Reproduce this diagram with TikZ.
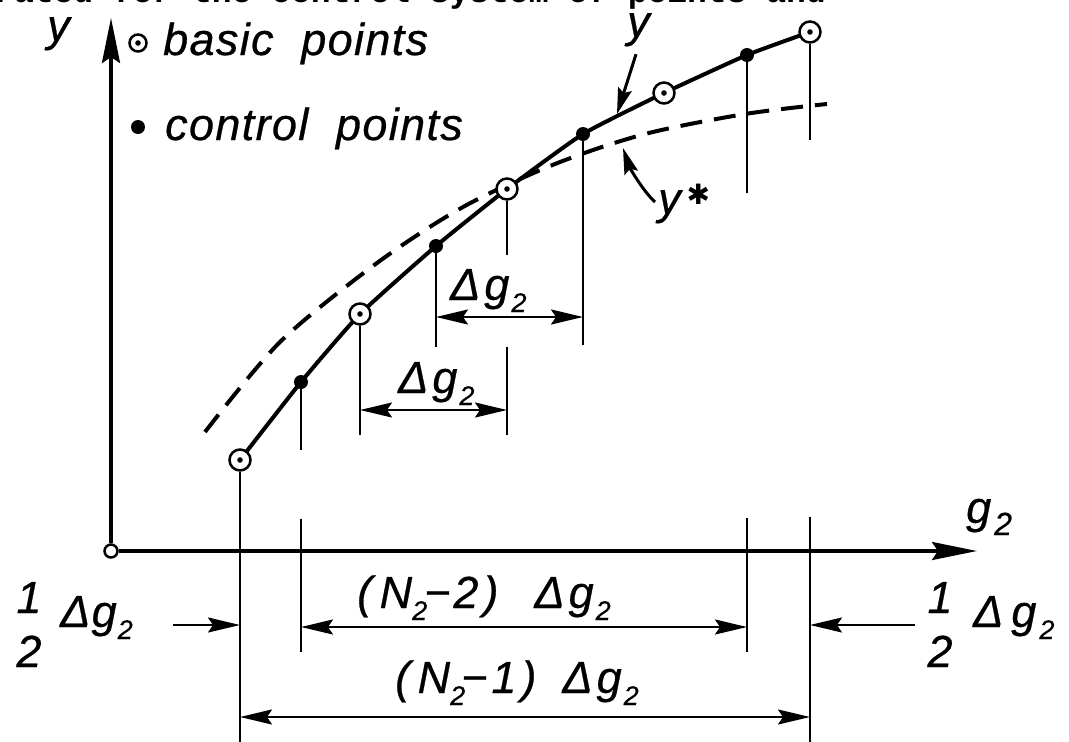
\documentclass[tikz,border=0pt]{standalone}
\usepackage{fontspec}
\setmainfont{Liberation Sans}
\newfontfamily\lab{Liberation Sans}[LetterSpace=3, FakeBold=0.6]
\newfontfamily\dejav{DejaVu Sans}
\newfontfamily\typew{Liberation Mono}
\usetikzlibrary{arrows.meta}
\newcommand{\sbs}[1]{\raisebox{-12pt}{\fontsize{27}{27}\selectfont #1}}
\newcommand{\dgs}{Δ\hspace{4pt}g\hspace{2pt}\sbs{2}}
\tikzset{
  lbl/.style={font=\lab\itshape\fontsize{45}{54}\selectfont, inner sep=0pt, anchor=base west},
  axisline/.style={line width=3.5pt, -{Stealth[length=45pt,width=18pt,inset=6pt]}},
  curveline/.style={line width=4pt, line join=round, line cap=round},
  starline/.style={line width=4pt, dash pattern=on 22pt off 12pt},
  extline/.style={line width=2.5pt},
  dimboth/.style={line width=2.3pt, {Stealth[length=32pt,width=15pt,inset=5pt]}-{Stealth[length=32pt,width=15pt,inset=5pt]}},
  dimone/.style={line width=2.3pt, -{Stealth[length=32pt,width=15pt,inset=5pt]}},
  labarrow/.style={line width=3pt, -{Stealth[length=26pt,width=14pt,inset=4pt]}},
  bpt/.style={circle, draw, line width=2.5pt, fill=white, minimum size=21pt, inner sep=0pt,
    path picture={\fill[black] (path picture bounding box.center) circle (2.8pt);}},
  cpt/.style={circle, fill, minimum size=14pt, inner sep=0pt},
}
\begin{document}
\begin{tikzpicture}[x=1pt,y=-1pt]
\useasboundingbox (0,0) rectangle (1069,742);
% cut caption line at the top
\node[font=\typew\bfseries\fontsize{33}{33}\selectfont, inner sep=0pt, anchor=base west] (cap) at (-6,2) {rated for the control system of points and};
% points
\coordinate (b1) at (240,460);
\coordinate (c1) at (301,382);
\coordinate (b2) at (360,314);
\coordinate (c2) at (436,246);
\coordinate (b3) at (507,189);
\coordinate (c3) at (583,134);
\coordinate (b4) at (664,93);
\coordinate (c4) at (747,55);
\coordinate (b5) at (810,32);
% axes
\node[circle, draw, fill=white, line width=2.5pt, minimum size=13pt, inner sep=0pt] (O) at (111,551) {};
\draw[axisline] (O) -- (O |- 0,18);
\draw[axisline] (O) -- (977,551);
% curves
\draw[starline] plot[smooth] coordinates {(205,432) (280,342) (377,263) (463,207) (555,164) (645,134) (745,114) (827,104)};
\draw[curveline] plot[smooth, tension=0.3] coordinates {(b1) (c1) (b2) (c2) (b3) (c3) (b4) (c4) (b5)};
% point marks
\node[bpt] (B1) at (b1) {};
\node[cpt] (C1) at (c1) {};
\node[bpt] (B2) at (b2) {};
\node[cpt] (C2) at (c2) {};
\node[bpt] (B3) at (b3) {};
\node[cpt] (C3) at (c3) {};
\node[bpt] (B4) at (b4) {};
\node[cpt] (C4) at (c4) {};
\node[bpt] (B5) at (b5) {};
% extension lines
\draw[extline] (B1) -- (b1 |- 0,742);
\draw[extline] (C1) -- (c1 |- 0,450);
\draw[extline] (c1 |- 0,519) -- (c1 |- 0,652);
\draw[extline] (B2) -- (b2 |- 0,435);
\draw[extline] (C2) -- (c2 |- 0,347);
\draw[extline] (B3) -- (b3 |- 0,255);
\draw[extline] (b3 |- 0,347) -- (b3 |- 0,435);
\draw[extline] (C3) -- (c3 |- 0,345);
\draw[extline] (C4) -- (c4 |- 0,193);
\draw[extline] (c4 |- 0,518) -- (c4 |- 0,652);
\draw[extline] (B5) -- (b5 |- 0,140);
\draw[extline] (b5 |- 0,517) -- (b5 |- 0,742);
% dimensions
\draw[dimboth] (c2 |- 0,317) -- (c3 |- 0,317);
\draw[dimboth] (b2 |- 0,410) -- (b3 |- 0,410);
\draw[dimboth] (c1 |- 0,627) -- (c4 |- 0,627);
\draw[dimboth] (b1 |- 0,717) -- (b5 |- 0,717);
\coordinate (hl) at (173,625);
\coordinate (hr) at (915,625);
\draw[dimone] (hl) -- (b1 |- hl);
\draw[dimone] (hr) -- (b5 |- hr);
% labels
\node[lbl] (ylab) at (47,41) {y};
\node[lbl] (g2lab) at (966,523) {g\hspace{3pt}\raisebox{-12pt}{\fontsize{32}{32}\selectfont 2}};
\node[bpt, minimum size=17pt] (legB) at (138,43) {};
\node[lbl] (tb) at (163,55) {basic\ \ points};
\node[cpt] (legC) at (138,127) {};
\node[lbl] (tc) at (165,140) {control\ \ points};
\node[lbl] (dgU) at (450,300) {\dgs};
\node[lbl] (dgM) at (398,393) {\dgs};
\node[lbl] (n2) at (357,608) {(\,N\sbs{2}\hspace{-3pt}−\hspace{3pt}2\hspace{5pt})\hspace{36pt}\dgs};
\node[lbl] (n1) at (395,693) {(\,N\sbs{2}\hspace{-4pt}−\hspace{4pt}1\hspace{5pt})\hspace{26pt}\dgs};
\node[lbl, anchor=base, align=center] (frL) at (29,667) {1\\2};
\node[lbl] (dgL) at (60,627) {Δg\hspace{1pt}\sbs{2}};
\node[lbl, anchor=base, align=center] (frR) at (940,667) {1\\2};
\node[lbl] (dgR) at (973,627) {Δ\hspace{8pt}g\hspace{3pt}\sbs{2}};
% curve labels
\node[lbl] (ycur) at (627,37) {y};
\coordinate (tipY) at (617,114);
\draw[labarrow, shorten <=8pt] (ycur.south) -- (tipY);
\node[lbl] (ystar) at (658,214) {y\hspace{6pt}\raisebox{10pt}{\dejav\bfseries\fontsize{28}{28}\selectfont ✱}};
\coordinate (tipS) at (623,148);
\draw[labarrow] (655,202) .. controls (642,190) and (629,166) .. (tipS);
\end{tikzpicture}
\end{document}
